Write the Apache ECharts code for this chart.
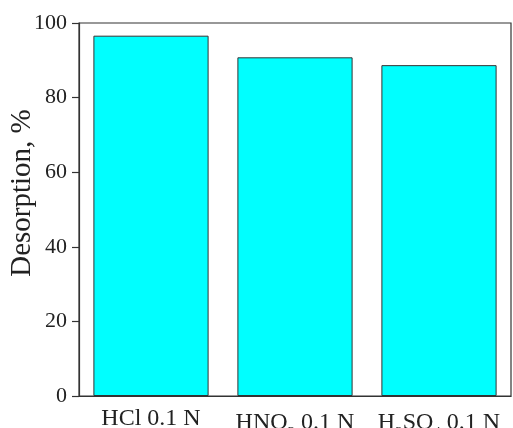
<!DOCTYPE html>
<html>
<head>
<meta charset="utf-8">
<script src="https://cdn.jsdelivr.net/npm/echarts@6/dist/echarts.min.js"></script>
<style>html,body{margin:0;padding:0;background:#fff;}#c{width:513px;height:428px;}</style>
</head>
<body>
<div id="c"></div>
<script>
var categories = ['HCl 0.1 N', 'HNO3 0.1 N', 'H2SO4 0.1 N'];
var categoryLabels = ['{n|HCl 0.1 N}', '{n|HNO}{s|3}{n| 0.1 N}', '{n|H}{s|2}{n|SO}{s|4}{n| 0.1 N}'];
var desorption = [96.6, 90.8, 88.7];
var yTicks = [0, 20, 40, 60, 80, 100];

var font = 'Liberation Serif';
var chart = echarts.init(document.getElementById('c'));
chart.setOption({
  animation: false,
  backgroundColor: '#fff',
  textStyle: {fontFamily: font},
  grid: {left: 79, right: 2, top: 23, bottom: 32, outerBoundsMode: 'none', containLabel: false, show: true, borderColor: '#333', borderWidth: 1.2},
  xAxis: {
    type: 'category',
    data: categories,
    axisLine: {lineStyle: {color: '#333', width: 1.2}},
    axisTick: {alignWithLabel: true, length: 6, lineStyle: {color: '#333', width: 1.2}},
    axisLabel: {
      margin: 9,
      interval: 0,
      color: '#222',
      fontFamily: font,
      formatter: function (v, i) { return categoryLabels[i]; },
      rich: {
        n: {fontFamily: font, fontSize: 24, color: '#222', lineHeight: 28},
        s: {fontFamily: font, fontSize: 15, color: '#222', lineHeight: 36, verticalAlign: 'bottom'}
      }
    }
  },
  yAxis: {
    type: 'value',
    min: yTicks[0],
    max: yTicks[yTicks.length - 1],
    interval: 20,
    name: 'Desorption, %',
    nameLocation: 'middle',
    nameGap: 42,
    nameMoveOverlap: false,
    nameTextStyle: {fontFamily: font, fontSize: 29, color: '#222', padding: [0, 0, 0, 33]},
    axisLine: {show: true, lineStyle: {color: '#333', width: 1.2}},
    axisTick: {show: true, length: 7, lineStyle: {color: '#333', width: 1.2}},
    axisLabel: {margin: 12, fontFamily: font, fontSize: 22, color: '#222'},
    splitLine: {show: false}
  },
  series: [{
    type: 'bar',
    data: desorption,
    barCategoryGap: '20%',
    itemStyle: {color: '#00FFFF', borderColor: '#333', borderWidth: 1}
  }]
});
</script>
</body>
</html>
